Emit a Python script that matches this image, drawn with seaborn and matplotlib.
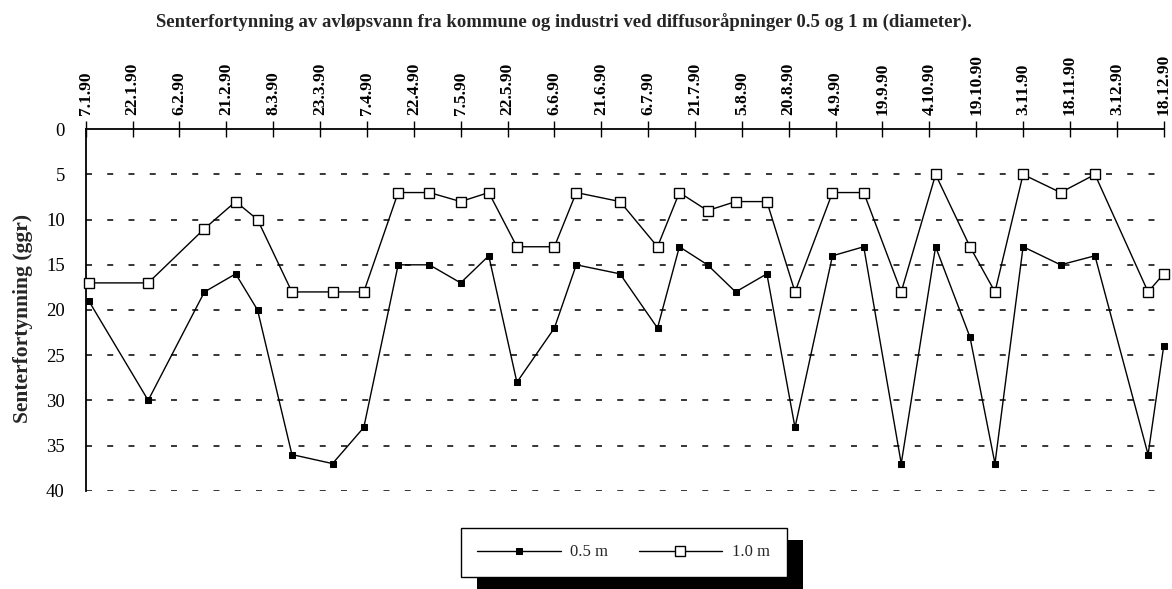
import pandas as pd
import seaborn as sns
import matplotlib.pyplot as plt
from matplotlib.patches import Rectangle

sns.set_style("white")
plt.rcParams["font.family"] = ["Liberation Serif", "DejaVu Serif"]
plt.rcParams["lines.scale_dashes"] = False

# sampling dates (d.m.yy) and centre dilution
sample_dates = ["8.1.90", "27.1.90", "14.2.90", "24.2.90", "3.3.90", "14.3.90",
                "27.3.90", "6.4.90", "17.4.90", "27.4.90", "7.5.90", "16.5.90",
                "25.5.90", "6.6.90", "13.6.90", "27.6.90", "9.7.90", "16.7.90",
                "25.7.90", "3.8.90", "13.8.90", "22.8.90", "3.9.90", "13.9.90",
                "25.9.90", "6.10.90", "17.10.90", "25.10.90", "3.11.90", "15.11.90",
                "26.11.90", "13.12.90", "18.12.90"]
dil_05m = [19, 30, 18, 16, 20, 36, 37, 33, 15, 15, 17, 14, 28, 22, 15, 16, 22,
           13, 15, 18, 16, 33, 14, 13, 37, 13, 23, 37, 13, 15, 14, 36, 24]
dil_10m = [17, 17, 11, 8, 10, 18, 18, 18, 7, 7, 8, 7, 13, 13, 7, 8, 13,
           7, 9, 8, 8, 18, 7, 7, 18, 5, 13, 18, 5, 7, 5, 18, 16]

tick_labels = ["7.1.90", "22.1.90", "6.2.90", "21.2.90", "8.3.90", "23.3.90",
               "7.4.90", "22.4.90", "7.5.90", "22.5.90", "6.6.90", "21.6.90",
               "6.7.90", "21.7.90", "5.8.90", "20.8.90", "4.9.90", "19.9.90",
               "4.10.90", "19.10.90", "3.11.90", "18.11.90", "3.12.90", "18.12.90"]
y_ticks = [0, 5, 10, 15, 20, 25, 30, 35, 40]

dates = pd.to_datetime(sample_dates, format="%d.%m.%y")
tick_dates = pd.to_datetime(tick_labels, format="%d.%m.%y")

W, H = 1172, 589
fig = plt.figure(figsize=(W / 100, H / 100), dpi=100)
ax = fig.add_axes([85.7 / W, 98.3 / H, 1078 / W, 361.4 / H])

for v in y_ticks[1:]:
    ax.axhline(v, color="black", lw=1.1, linestyle=(0, (4.3, 11)), zorder=0.5)

sns.lineplot(x=dates, y=dil_05m, ax=ax, color="black", lw=1.0, marker="s",
             markersize=5, markerfacecolor="black", markeredgecolor="black",
             label="0.5 m", clip_on=False, zorder=3)
sns.lineplot(x=dates, y=dil_10m, ax=ax, color="black", lw=1.0, marker="s",
             markersize=7, markerfacecolor="white", markeredgecolor="black",
             markeredgewidth=1.0, label="1.0 m", clip_on=False, zorder=3)

ax.set_xlim(tick_dates[0], tick_dates[-1])
ax.set_ylim(40, 0)
ax.xaxis.tick_top()
ax.set_xticks(tick_dates)
ax.set_xticklabels(tick_labels, rotation=90, fontweight="bold", fontsize=12.5)
ax.set_yticks(y_ticks)
ax.set_yticklabels([str(v) for v in y_ticks], fontsize=13.5)
ax.tick_params(axis="x", direction="inout", length=12, width=1.0, pad=4,
               colors="black")
ax.tick_params(axis="y", direction="inout", length=12, width=1.0, pad=9,
               colors="black")
ax.set_xlabel("")

for side in ["right", "bottom"]:
    ax.spines[side].set_visible(False)
for side in ["top", "left"]:
    ax.spines[side].set_color("black")
    ax.spines[side].set_linewidth(1.3)

ax.set_ylabel("Senterfortynning (ggr)", fontweight="bold", fontsize=15.5)
ax.yaxis.set_label_coords(-0.049, 0.478)

fig.text(564 / W, 1 - 22.7 / H,
         "Senterfortynning av avløpsvann fra kommune og industri ved "
         "diffusoråpninger 0.5 og 1 m (diameter).",
         ha="center", va="center", fontsize=13.5, fontweight="bold")

handles, labels = ax.get_legend_handles_labels()
ax.legend().remove()
leg = fig.legend(handles, labels, loc="center",
                 bbox_to_anchor=(623.5 / W, 1 - 552.5 / H), ncol=2,
                 frameon=True, fancybox=False, edgecolor="black", framealpha=1,
                 handlelength=5, handletextpad=0.6, columnspacing=1.8,
                 borderpad=1.0, fontsize=12)
leg.get_frame().set_linewidth(1.0)

# solid offset shadow behind the legend box
fig.canvas.draw()
bb = leg.get_window_extent()
inv = fig.transFigure.inverted()
x0, y0 = inv.transform((bb.x0 + 16, bb.y0 - 12))
x1, y1 = inv.transform((bb.x1 + 16, bb.y1 - 12))
fig.add_artist(Rectangle((x0, y0), x1 - x0, y1 - y0, transform=fig.transFigure,
                         facecolor="black", edgecolor="none", zorder=4))

fig.savefig("out.png", dpi=100)
